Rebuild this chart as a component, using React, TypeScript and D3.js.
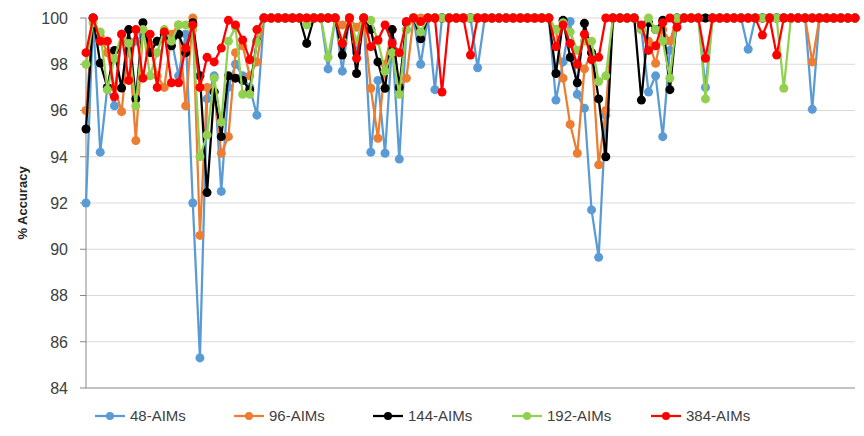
import React from "react";
import * as d3 from "d3";

const yTicks = [84, 86, 88, 90, 92, 94, 96, 98, 100];
const seriesNames = ["48-AIMs", "96-AIMs", "144-AIMs", "192-AIMs", "384-AIMs"];
const seriesColors = ["#5B9BD5", "#ED7D31", "#000000", "#92D050", "#FF0000"];

const s48 = [
  92.0, 100, 94.2, 97.0, 96.2, 99.3, 98.5, 99.0, 99.3, 98.8,
  99.0, 99.2, 99.1, 97.5, 99.3, 92.0, 85.3, 96.5, 97.5, 92.5,
  97.0, 98.0, 97.5, 97.0, 95.8, 100, 100, 100, 100, 100,
  100, 100, 100, 100, 97.8, 100, 97.7, 100, 98.5, 100,
  94.2, 97.3, 94.15, 99.0, 93.9, 99.5, 100, 98.0, 100, 96.9,
  100, 100, 100, 100, 100, 97.85, 100, 100, 100, 100,
  100, 100, 100, 100, 100, 100, 96.45, 98.1, 99.85, 96.7,
  96.1, 91.7, 89.65, 95.8, 100, 100, 100, 100, 99.5, 96.8,
  97.5, 94.87, 98.6, 100, 100, 100, 100, 97.0, 100, 100,
  100, 100, 100, 98.65, 100, 100, 100, 100, 100, 100,
  100, 100, 96.05, 100, 100, 100, 100, 100, 100,
];

const s96 = [
  96.0, 100, 99.2, 98.5, 97.0, 95.95, 99.0, 94.7, 99.5, 98.8,
  97.5, 97.0, 99.3, 99.7, 96.2, 100, 90.6, 97.0, 96.8, 94.15,
  94.87, 98.5, 98.8, 97.5, 98.1, 100, 100, 100, 100, 100,
  100, 100, 100, 100, 100, 100, 99.7, 100, 99.6, 100,
  96.96, 94.8, 98.0, 99.5, 97.0, 97.4, 100, 100, 100, 100,
  100, 100, 100, 100, 100, 100, 100, 100, 100, 100,
  100, 100, 100, 100, 100, 100, 99.5, 97.4, 95.4, 94.15,
  97.8, 98.5, 93.65, 96.0, 100, 100, 100, 100, 99.5, 99.0,
  98.04, 99.5, 99.0, 100, 100, 100, 100, 100, 100, 100,
  100, 100, 100, 100, 100, 100, 100, 100, 100, 100,
  100, 100, 98.1, 100, 100, 100, 100, 100, 100,
];

const s144 = [
  95.2, 100, 98.05, 97.0, 98.6, 96.97, 99.5, 96.5, 99.8, 98.5,
  99.0, 99.3, 98.8, 99.3, 98.5, 99.8, 97.5, 92.45, 96.8, 94.87,
  97.5, 97.4, 97.3, 96.9, 99.0, 100, 100, 100, 100, 100,
  100, 98.9, 100, 100, 100, 100, 98.4, 100, 97.6, 100,
  99.5, 98.1, 96.96, 99.5, 97.0, 99.8, 100, 99.1, 100, 100,
  100, 100, 100, 100, 100, 100, 100, 100, 100, 100,
  100, 100, 100, 100, 100, 100, 97.6, 99.9, 98.3, 97.2,
  99.77, 98.5, 96.5, 94.0, 100, 100, 100, 100, 96.45, 99.8,
  99.5, 99.9, 96.9, 100, 100, 100, 100, 100, 100, 100,
  100, 100, 100, 100, 100, 100, 100, 100, 100, 100,
  100, 100, 100, 100, 100, 100, 100, 100, 100,
];

const s192 = [
  98.0, 99.8, 99.4, 96.9, 98.25, 99.3, 98.9, 96.2, 99.5, 97.5,
  98.5, 99.5, 99.0, 99.7, 99.7, 99.5, 94.0, 94.94, 97.4, 95.5,
  99.0, 99.6, 96.7, 96.7, 98.97, 100, 100, 100, 100, 100,
  100, 99.7, 100, 100, 98.3, 100, 99.0, 100, 99.0, 100,
  99.9, 99.0, 97.7, 98.5, 96.7, 99.5, 100, 99.4, 100, 100,
  100, 100, 100, 100, 100, 100, 100, 100, 100, 100,
  100, 100, 100, 100, 100, 100, 99.5, 99.8, 99.4, 98.6,
  99.0, 99.0, 97.25, 97.5, 100, 100, 100, 100, 99.5, 100,
  99.5, 99.0, 97.4, 100, 100, 100, 100, 96.5, 100, 100,
  100, 100, 100, 100, 100, 100, 100, 100, 96.96, 100,
  100, 100, 100, 100, 100, 100, 100, 100, 100,
];

const s384 = [
  98.5, 100, 99.0, 99.0, 96.6, 99.3, 97.3, 99.5, 97.4, 99.3,
  97.0, 99.4, 97.2, 97.2, 98.7, 99.7, 97.0, 98.3, 98.1, 98.7,
  99.9, 99.7, 99.05, 98.2, 99.5, 100, 100, 100, 100, 100,
  100, 100, 100, 100, 100, 100, 98.9, 100, 98.26, 100,
  98.76, 99.05, 99.7, 98.9, 98.5, 99.85, 100, 99.85, 100, 100,
  96.8, 100, 100, 100, 98.4, 100, 100, 100, 100, 100,
  100, 100, 100, 100, 100, 100, 98.76, 99.7, 98.9, 98.0,
  99.3, 98.2, 98.3, 100, 100, 100, 100, 100, 99.7, 98.6,
  98.8, 99.8, 100, 99.6, 100, 100, 100, 98.26, 100, 100,
  100, 100, 100, 100, 100, 99.26, 100, 98.4, 100, 100,
  100, 100, 100, 100, 100, 100, 100, 100, 100,
];

const allSeries = [s48, s96, s144, s192, s384];

const W = 864;
const H = 436;
const left = 86;
const right = 855;
const top = 18;
const bottom = 388;
const font = "'Liberation Sans', Arial, sans-serif";

export default function App() {
  const n = s48.length;
  const x = d3.scaleLinear().domain([0, n - 1]).range([left, right]);
  const y = d3.scaleLinear().domain([84, 100]).range([bottom, top]);
  const line = d3
    .line<number>()
    .x((_, i) => x(i))
    .y((v) => y(v));

  const legendStart = 95;
  const legendStep = 139;
  const legendY = 416;

  return (
    <svg
      width={W}
      height={H}
      style={{ position: "absolute", left: 0, top: 0, background: "#fff" }}
    >
      {yTicks.map((t) => (
        <g key={t}>
          {t > 84 && (
            <line x1={left} x2={right} y1={y(t)} y2={y(t)} stroke="#d9d9d9" strokeWidth={1} />
          )}
          <line x1={left - 6} x2={left} y1={y(t)} y2={y(t)} stroke="#868686" strokeWidth={1} />
          <text
            x={68}
            y={y(t)}
            dy="0.36em"
            textAnchor="end"
            fontFamily={font}
            fontSize={16}
            fill="#404040"
          >
            {t}
          </text>
        </g>
      ))}
      <line x1={left} x2={left} y1={top} y2={bottom} stroke="#868686" strokeWidth={1} />
      <line x1={left} x2={right} y1={bottom} y2={bottom} stroke="#868686" strokeWidth={1} />
      <text
        transform={`translate(27,203) rotate(-90)`}
        textAnchor="middle"
        fontFamily={font}
        fontSize={13}
        fontWeight="bold"
        fill="#262626"
      >
        % Accuracy
      </text>

      {allSeries.map((s, k) => (
        <g key={k}>
          <path d={line(s) || ""} fill="none" stroke={seriesColors[k]} strokeWidth={2.25} />
          {s.map((v, i) => (
            <circle key={i} cx={x(i)} cy={y(v)} r={4.5} fill={seriesColors[k]} />
          ))}
        </g>
      ))}

      {seriesNames.map((name, k) => {
        const lx = legendStart + k * legendStep;
        return (
          <g key={name}>
            <line x1={lx} x2={lx + 30} y1={legendY} y2={legendY} stroke={seriesColors[k]} strokeWidth={2.25} />
            <circle cx={lx + 15} cy={legendY} r={4} fill={seriesColors[k]} />
            <text
              x={lx + 35}
              y={legendY}
              dy="0.36em"
              fontFamily={font}
              fontSize={15}
              fill="#404040"
            >
              {name}
            </text>
          </g>
        );
      })}
    </svg>
  );
}
